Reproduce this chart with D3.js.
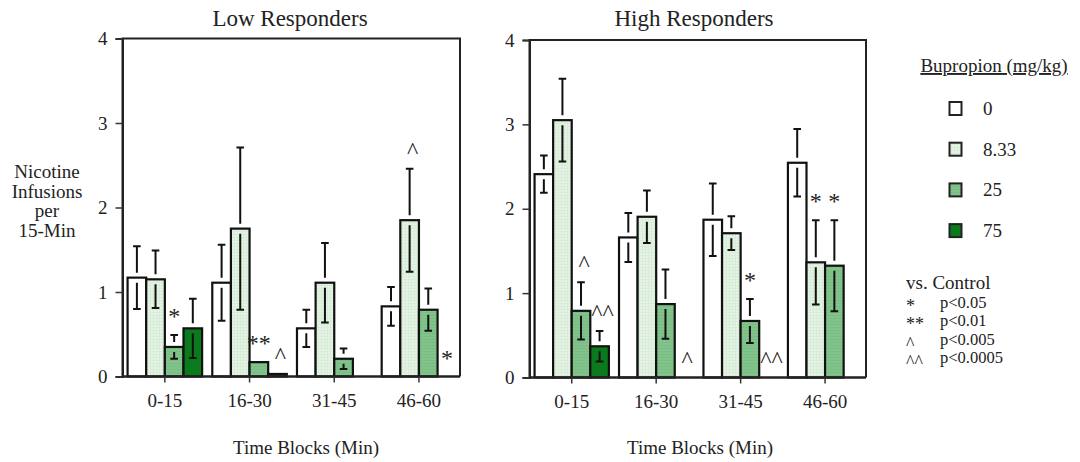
<!DOCTYPE html>
<html>
<head>
<meta charset="utf-8">
<script src="https://cdn.jsdelivr.net/npm/d3@7"></script>
<style>
  html, body { margin: 0; padding: 0; background: #fff; }
  svg text { font-family: "Liberation Serif", "Times New Roman", serif; fill: #222; }
</style>
</head>
<body>
<svg id="chart" width="1080" height="462"></svg>
<script>
// ---------------- data ----------------
const groups = ["0-15", "16-30", "31-45", "46-60"];
const doses = ["0", "8.33", "25", "75"];
const yTicks = [0, 1, 2, 3, 4];

// means [group][dose]
const lowMeans  = [[1.17, 1.15, 0.35, 0.57], [1.11, 1.75, 0.17, 0.03], [0.57, 1.11, 0.21, 0], [0.83, 1.85, 0.79, 0]];
const lowSems   = [[0.37, 0.34, 0.14, 0.35], [0.45, 0.96, 0, 0],       [0.22, 0.47, 0.12, 0], [0.23, 0.61, 0.25, 0]];
const highMeans = [[2.41, 3.05, 0.79, 0.37], [1.66, 1.905, 0.87, 0],   [1.87, 1.71, 0.67, 0], [2.545, 1.365, 1.325, 0]];
const highSems  = [[0.22, 0.49, 0.34, 0.18], [0.29, 0.31, 0.41, 0],    [0.43, 0.2, 0.26, 0],  [0.4, 0.5, 0.54, 0]];

// significance marks: group index, dose index, label
const lowMarks  = [[0, 2, "*"], [1, 2, "**"], [1, 3, "^"], [3, 1, "^"], [3, 3, "*"]];
const highMarks = [[0, 2, "^"], [0, 3, "^^"], [1, 3, "^"], [2, 2, "*"], [2, 3, "^^"], [3, 1, "*"], [3, 2, "*"]];

const sigLegend = [["*", "p<0.05"], ["**", "p<0.01"], ["^", "p<0.005"], ["^^", "p<0.0005"]];

// ---------------- styles ----------------
const doseColors = ["#ffffff", "#e4f3e4", "#82c38c", "#0b7a1c"];
const FONT = 19;
const MARKFONT = 24;

const svg = d3.select("#chart");

// subtle texture on the light bars
const defs = svg.append("defs");
const p1 = defs.append("pattern").attr("id", "tex1").attr("width", 3).attr("height", 3).attr("patternUnits", "userSpaceOnUse");
p1.append("rect").attr("width", 3).attr("height", 3).attr("fill", doseColors[1]);
p1.append("path").attr("d", "M0,0.5H3M0.5,0V3").attr("stroke", "#d3ead3").attr("stroke-width", 0.6);
const p2 = defs.append("pattern").attr("id", "tex2").attr("width", 3).attr("height", 3).attr("patternUnits", "userSpaceOnUse");
p2.append("rect").attr("width", 3).attr("height", 3).attr("fill", doseColors[2]);
p2.append("path").attr("d", "M0,0.5H3").attr("stroke", "#76b981").attr("stroke-width", 0.7);
const fills = ["#ffffff", "url(#tex1)", "url(#tex2)", doseColors[3]];

function drawPanel(cfg) {
  const { x0, x1, yTop, yBot, title, titleX, xTitleX, means, sems, marks } = cfg;
  const g = svg.append("g");

  const y = d3.scaleLinear().domain([0, 4]).range([yBot, yTop]);
  const x = d3.scaleBand().domain(groups).range([x0, x1 + 1.3]).paddingInner(0.12).paddingOuter(0.06);
  const xs = d3.scaleBand().domain(doses).range([0, x.bandwidth()]);

  // bars
  groups.forEach((grp, gi) => {
    doses.forEach((d, di) => {
      const v = means[gi][di];
      if (v <= 0) return;
      g.append("rect")
        .attr("x", x(grp) + xs(d))
        .attr("y", y(v))
        .attr("width", xs.bandwidth())
        .attr("height", yBot - y(v))
        .attr("fill", fills[di])
        .attr("stroke", "#111")
        .attr("stroke-width", 2.2);
    });
  });

  // error bars
  groups.forEach((grp, gi) => {
    doses.forEach((d, di) => {
      const v = means[gi][di], s = sems[gi][di];
      if (v <= 0 || s <= 0) return;
      const cx = x(grp) + xs(d) + xs.bandwidth() / 2;
      const yt = y(v + s), yb = y(v - s), ym = y(v);
      const gapU = Math.min(5, (ym - yt) / 2), gapL = Math.min(5, (yb - ym) / 2);
      const cw = 3.8;
      const eb = g.append("g").attr("stroke", "#111").attr("stroke-width", 2).attr("fill", "none");
      eb.append("path").attr("d", `M${cx},${yt}V${ym - gapU}M${cx - cw},${yt}H${cx + cw}`);
      eb.append("path").attr("d", `M${cx},${ym + gapL}V${yb}M${cx - cw},${yb}H${cx + cw}`);
    });
  });

  // significance marks
  marks.forEach(([gi, di, t]) => {
    const v = means[gi][di], s = sems[gi][di];
    const cx = x(groups[gi]) + xs(doses[di]) + xs.bandwidth() / 2;
    g.append("text")
      .attr("x", cx + (t[0] === "^" ? 3 : 0))
      .attr("y", y(v + s) - 22 + 11)
      .attr("text-anchor", "middle")
      .attr("font-size", MARKFONT)
      .attr("fill", "#333")
      .text(t);
  });

  // frame
  g.append("path")
    .attr("d", `M${x0},${yBot}V${yTop}H${x1}V${yBot}`)
    .attr("fill", "none").attr("stroke", "#222").attr("stroke-width", 2);

  // y axis
  const yAxis = d3.axisLeft(y).tickValues(yTicks).tickSize(7).tickPadding(8).tickFormat(d3.format("d"));
  const ya = g.append("g").attr("transform", `translate(${x0},0)`).call(yAxis);
  ya.attr("font-family", null);
  ya.select(".domain").attr("stroke", "#222").attr("stroke-width", 2);
  ya.selectAll(".tick line").attr("stroke", "#333").attr("stroke-width", 1.5);
  ya.selectAll("text").attr("font-size", FONT).attr("fill", "#222");

  // x axis
  const xAxis = d3.axisBottom(x).tickSize(6).tickPadding(11);
  const xa = g.append("g").attr("transform", `translate(0,${yBot})`).call(xAxis);
  xa.attr("font-family", null);
  xa.select(".domain").attr("d", `M${x0},0H${x1}`).attr("stroke", "#222").attr("stroke-width", 2.5);
  xa.selectAll(".tick line").attr("stroke", "#333").attr("stroke-width", 1.5);
  xa.selectAll("text").attr("font-size", FONT).attr("fill", "#222");

  // titles
  g.append("text").attr("x", titleX).attr("y", 26).attr("text-anchor", "middle")
    .attr("font-size", 23).text(title);
  g.append("text").attr("x", xTitleX).attr("y", 454).attr("text-anchor", "middle")
    .attr("font-size", FONT).text("Time Blocks (Min)");
}

drawPanel({ x0: 122.5, x1: 460, yTop: 38.5, yBot: 376.5, title: "Low Responders", titleX: 290, xTitleX: 306,
  means: lowMeans, sems: lowSems, marks: lowMarks });
drawPanel({ x0: 529.5, x1: 866, yTop: 40, yBot: 377.5, title: "High Responders", titleX: 694, xTitleX: 700,
  means: highMeans, sems: highSems, marks: highMarks });

// y axis title
const yTitle = ["Nicotine", "Infusions", "per", "15-Min"];
svg.append("g").selectAll("text").data(yTitle).join("text")
  .attr("x", 47).attr("y", (d, i) => 178 + i * 19.5)
  .attr("text-anchor", "middle").attr("font-size", FONT).text(d => d);

// legend
const lg = svg.append("g");
lg.append("text").attr("x", 994).attr("y", 72).attr("text-anchor", "middle")
  .attr("font-size", FONT).attr("text-decoration", "underline").text("Bupropion (mg/kg)");
doses.forEach((d, i) => {
  const cy = 108.5 + i * 40.7;
  lg.append("rect").attr("x", 949.5).attr("y", cy - 6.5).attr("width", 12).attr("height", 13)
    .attr("fill", fills[i]).attr("stroke", "#222").attr("stroke-width", 2);
  lg.append("text").attr("x", 983).attr("y", cy + 6.5).attr("font-size", FONT).text(d);
});
lg.append("text").attr("x", 906).attr("y", 289).attr("font-size", FONT).text("vs. Control");
sigLegend.forEach(([s, p], i) => {
  const by = 307.5 + i * 18.6;
  lg.append("text").attr("x", 906).attr("y", by + (s[0] === "^" ? 5 : 4)).attr("font-size", 18).attr("fill", "#333").text(s);
  lg.append("text").attr("x", 940).attr("y", by).attr("font-size", 16.5).text(p);
});
</script>
</body>
</html>
